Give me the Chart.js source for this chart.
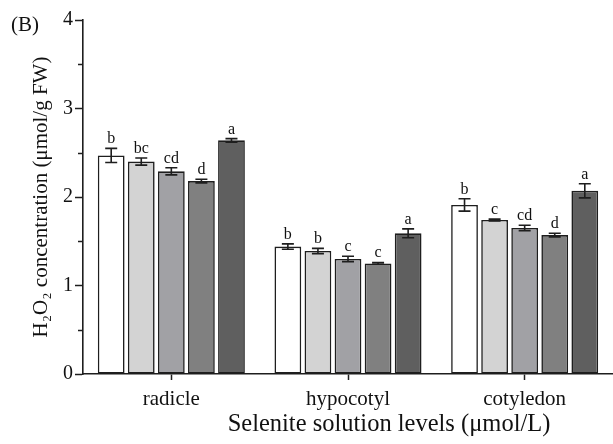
<!DOCTYPE html>
<html>
<head>
<meta charset="utf-8">
<script src="https://cdn.jsdelivr.net/npm/chart.js@4.4.1/dist/chart.umd.min.js"></script>
<style>
  html, body { margin: 0; padding: 0; background: #fff; }
  #wrap { width: 613px; height: 444px; }
</style>
</head>
<body>
<div id="wrap"><canvas id="h2o2Chart"></canvas></div>
<script>
const tissues = ["radicle", "hypocotyl", "cotyledon"];
const levelNames = ["Se level 1", "Se level 2", "Se level 3", "Se level 4", "Se level 5"];
const yTicks = [0, 1, 2, 3, 4];

// H2O2 means per selenite level (one value per tissue)
const level1 = [2.47, 1.44, 1.91];
const level2 = [2.40, 1.39, 1.74];
const level3 = [2.29, 1.30, 1.65];
const level4 = [2.18, 1.25, 1.57];
const level5 = [2.64, 1.59, 2.07];

// error bars (+/-)
const err1 = [0.08, 0.03, 0.07];
const err2 = [0.04, 0.03, 0.01];
const err3 = [0.04, 0.03, 0.03];
const err4 = [0.02, 0.01, 0.02];
const err5 = [0.02, 0.05, 0.08];

// significance letters
const sig1 = ["b", "b", "b"];
const sig2 = ["bc", "b", "c"];
const sig3 = ["cd", "c", "cd"];
const sig4 = ["d", "c", "d"];
const sig5 = ["a", "a", "a"];

const fills = ["#ffffff", "#d3d3d3", "#a1a1a5", "#808080", "#5f5f5f"];
const ink = "#1e1e1e";
const serif = "'Liberation Serif', 'Times New Roman', serif";
const xTitle = "Selenite solution levels (μmol/L)";

const allValues = [level1, level2, level3, level4, level5];
const allErrors = [err1, err2, err3, err4, err5];
const allLetters = [sig1, sig2, sig3, sig4, sig5];

const datasets = allValues.map((vals, i) => ({
  label: levelNames[i],
  data: vals,
  backgroundColor: fills[i],
  borderColor: ink,
  borderWidth: 1.6,
  borderSkipped: false,
  categoryPercentage: 0.851,
  barPercentage: 0.89
}));

const errorBars = {
  id: "errorBars",
  afterDatasetsDraw(chart) {
    const ctx = chart.ctx;
    const y = chart.scales.y;
    ctx.save();
    ctx.strokeStyle = ink;
    ctx.lineWidth = 1.6;
    ctx.fillStyle = "#111";
    ctx.font = "16px " + serif;
    ctx.textAlign = "center";
    ctx.textBaseline = "alphabetic";
    chart.data.datasets.forEach((ds, i) => {
      const meta = chart.getDatasetMeta(i);
      meta.data.forEach((bar, j) => {
        const v = ds.data[j];
        const e = allErrors[i][j];
        const top = y.getPixelForValue(v + e);
        const bot = y.getPixelForValue(v - e);
        const x = bar.x;
        const cap = 6;
        ctx.beginPath();
        ctx.moveTo(x, top); ctx.lineTo(x, bot);
        ctx.moveTo(x - cap, top); ctx.lineTo(x + cap, top);
        ctx.moveTo(x - cap, bot); ctx.lineTo(x + cap, bot);
        ctx.stroke();
        ctx.fillText(allLetters[i][j], x, top - 5);
      });
    });
    ctx.restore();
  }
};

const decorations = {
  id: "decorations",
  afterDraw(chart) {
    const ctx = chart.ctx;
    const y = chart.scales.y;
    const left = chart.chartArea.left;
    ctx.save();
    // minor y ticks
    ctx.strokeStyle = ink;
    ctx.lineWidth = 1.5;
    ctx.beginPath();
    for (let k = 0; k < yTicks.length - 1; k++) {
      const py = Math.round(y.getPixelForValue(yTicks[k] + 0.5)) + 0.5;
      ctx.moveTo(left - 5, py);
      ctx.lineTo(left, py);
    }
    ctx.stroke();
    ctx.fillStyle = "#111";
    ctx.textBaseline = "alphabetic";
    // panel tag
    ctx.font = "21px " + serif;
    ctx.textAlign = "left";
    ctx.fillText("(B)", 11, 31);
    // x axis title (sits right of centre in the original)
    ctx.font = "24.5px " + serif;
    ctx.textAlign = "center";
    ctx.fillText(xTitle, 389, 431);
    ctx.restore();
  }
};

new Chart(document.getElementById("h2o2Chart"), {
  type: "bar",
  data: { labels: tissues, datasets: datasets },
  options: {
    responsive: true,
    maintainAspectRatio: false,
    animation: false,
    devicePixelRatio: 1,
    layout: { padding: { top: 20, right: -4, left: 0, bottom: 0 } },
    plugins: { legend: { display: false }, tooltip: { enabled: false } },
    scales: {
      x: {
        offset: true,
        grid: { display: true, offset: false, drawOnChartArea: false, drawTicks: true, tickLength: 6, tickColor: ink, tickWidth: 1.5 },
        border: { display: true, color: ink, width: 1.6 },
        ticks: { color: "#111", font: { family: serif, size: 21 }, padding: 7 },
        afterFit(scale) { scale.height = 70; }
      },
      y: {
        min: 0,
        max: 4,
        ticks: { stepSize: 1, color: "#111", font: { family: serif, size: 20 }, padding: 2 },
        grid: { display: true, drawOnChartArea: false, drawTicks: true, tickLength: 8, tickColor: ink, tickWidth: 1.5 },
        border: { display: true, color: ink, width: 1.6 },
        title: { display: true, text: "H₂O₂ concentration (μmol/g FW)", color: "#111", font: { family: serif, size: 21 }, padding: { top: 29, bottom: 0 } },
        afterFit(scale) { scale.width = 83; }
      }
    }
  },
  plugins: [errorBars, decorations]
});
</script>
</body>
</html>
